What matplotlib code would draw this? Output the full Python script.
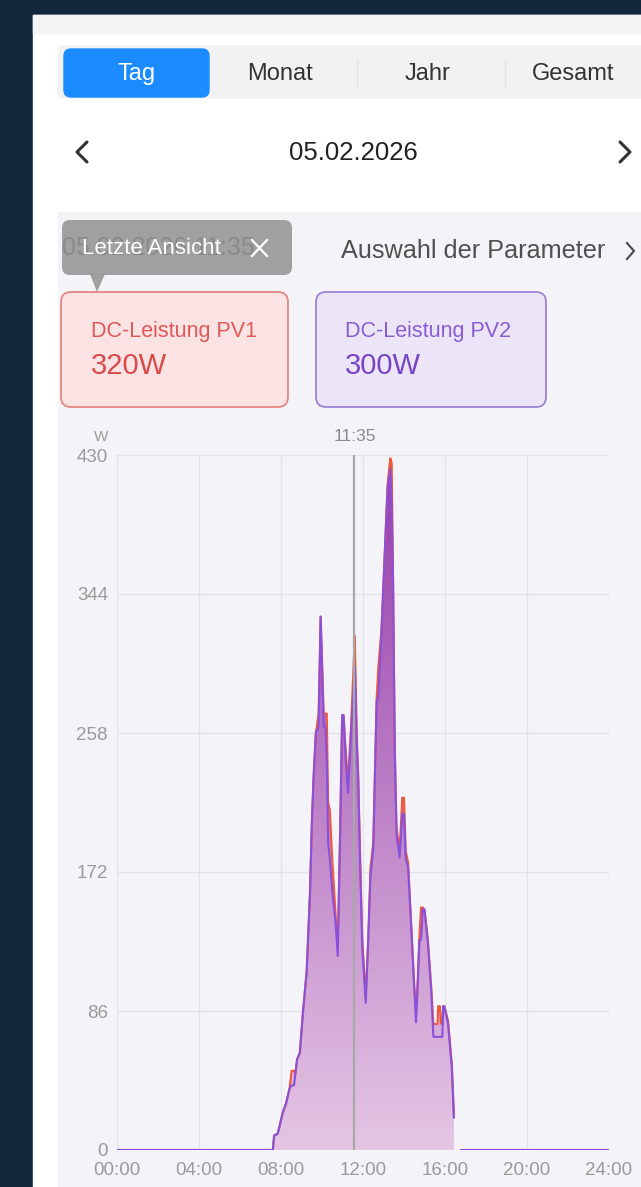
import numpy as np
import matplotlib
matplotlib.use("Agg")
import matplotlib.pyplot as plt
from matplotlib.patches import Rectangle, FancyBboxPatch, Polygon

plt.rcParams['font.family'] = ['Liberation Sans', 'DejaVu Sans']

# Data (time of day, DC power in W)
times = ["00:00", "07:36", "07:40", "07:50", "07:55", "08:05", "08:15", "08:25", "08:31", "08:38",
         "08:42", "08:47", "08:55", "09:05", "09:15", "09:25", "09:30", "09:35", "09:42", "09:50",
         "09:56", "10:00", "10:05", "10:10", "10:14", "10:18", "10:23", "10:30", "10:40", "10:46",
         "10:53", "10:59", "11:03", "11:10", "11:16", "11:25", "11:36", "11:42", "11:46", "11:52",
         "11:58", "12:08", "12:15", "12:22", "12:30", "12:40", "12:45", "12:54", "13:04", "13:12",
         "13:20", "13:24", "13:28", "13:33", "13:38", "13:47", "13:55", "14:00", "14:05", "14:12",
         "14:22", "14:30", "14:35", "14:40", "14:45", "14:50", "14:55", "15:00", "15:10", "15:20",
         "15:26", "15:38", "15:40", "15:45", "15:48", "15:52", "15:55", "15:58", "16:09", "16:20",
         "16:26", "16:27", "16:48", "24:00"]
pv1 = [0, 0, 9, 10, 14, 23, 29, 38, 49, 49,
       47, 56, 60, 87, 110, 160, 200, 229, 258, 270,
       330, 305, 270, 270, 270, 215, 210, 180, 145, 125,
       196, 269, 269, 245, 228, 262, 318, 255, 233, 178,
       130, 95, 130, 175, 190, 280, 299, 322, 371, 412,
       428, 425, 355, 250, 200, 185, 218, 218, 185, 178,
       136, 102, 85, 105, 132, 150, 150, 148, 130, 100,
       78, 78, 89, 89, 78, 80, 89, 89, 80, 53,
       22, None, 0, 0]
pv2 = [0, 0, 9, 10, 14, 23, 29, 38, 40, 40,
       47, 56, 60, 87, 110, 160, 200, 229, 258, 262,
       330, 300, 262, 262, 240, 190, 180, 160, 140, 120,
       196, 269, 269, 240, 221, 258, 299, 250, 229, 173,
       124, 91, 128, 170, 186, 278, 280, 320, 371, 410,
       421, 400, 351, 247, 196, 181, 208, 208, 180, 175,
       134, 100, 79, 100, 130, 130, 149, 149, 128, 97,
       70, 70, 70, 70, 70, 70, 89, 89, 78, 51,
       20, None, 0, 0]
yticks = [0, 86, 172, 258, 344, 430]
xticks = [0, 4, 8, 12, 16, 20, 24]
xlabels = ["00:00", "04:00", "08:00", "12:00", "16:00", "20:00", "24:00"]
cursor_time = "11:35"

hours = np.array([int(t[:2]) + int(t[3:]) / 60 for t in times])
p1 = np.array([np.nan if v is None else v for v in pv1], dtype=float)
p2 = np.array([np.nan if v is None else v for v in pv2], dtype=float)

W, H = 641, 1187
fig = plt.figure(figsize=(W / 100, H / 100), dpi=100)

# background "app" layer in pixel coordinates
bg = fig.add_axes([0, 0, 1, 1])
bg.set_xlim(0, W)
bg.set_ylim(H, 0)
bg.axis('off')
bg.add_patch(Rectangle((0, 0), W, H, color='#13273a'))
bg.add_patch(Rectangle((33, 15), W - 33, H - 15, color='white'))
bg.add_patch(Rectangle((33, 15), W - 33, 18, color='#f4f4f6'))

# tab bar
bg.add_patch(FancyBboxPatch((58, 46), 600, 52, boxstyle="round,pad=0,rounding_size=6",
                            color='#f2f2f5'))
bg.add_patch(FancyBboxPatch((64, 49), 145, 48, boxstyle="round,pad=0,rounding_size=7",
                            color='#1a8cff'))
bg.text(137, 74, "Tag", color='white', fontsize=17, ha='center', va='center')
bg.text(280, 74, "Monat", color='#333333', fontsize=17, ha='center', va='center')
bg.text(428, 74, "Jahr", color='#333333', fontsize=17, ha='center', va='center')
bg.text(573, 74, "Gesamt", color='#333333', fontsize=17, ha='center', va='center')
for sx in [357, 505]:
    bg.plot([sx, sx], [60, 88], color='#e3e3e8', lw=1)

# date row
bg.text(353, 153, "05.02.2026", color='#222222', fontsize=18.5, ha='center', va='center')
bg.plot([87, 77, 87], [142, 152, 162], color='#333333', lw=2.2, solid_capstyle='round')
bg.plot([620, 630, 620], [142, 152, 162], color='#333333', lw=2.2, solid_capstyle='round')

# chart panel
bg.add_patch(Rectangle((58, 212), W - 58, H - 212, color='#f4f4f8'))

# tooltip over the timestamp
bg.text(62, 248, "05.02.2026 11:35", color='#8a8a8a', fontsize=18, ha='left', va='center')
bg.add_patch(FancyBboxPatch((62, 220), 230, 55, boxstyle="round,pad=0,rounding_size=8",
                            color='#979797', alpha=0.9, lw=0))
bg.add_patch(Polygon([[90, 274], [105, 274], [97, 292]], closed=True, color='#979797',
                     alpha=0.9, lw=0))
bg.text(82, 248, "Letzte Ansicht", color='white', fontsize=16, ha='left', va='center')
bg.plot([252, 267], [240, 256], color='white', lw=1.6)
bg.plot([252, 267], [256, 240], color='white', lw=1.6)

bg.text(341, 251, "Auswahl der Parameter", color='#505050', fontsize=18.2, ha='left', va='center')
bg.plot([627, 634, 627], [243, 251, 259], color='#505050', lw=1.6)

# value cards
bg.add_patch(FancyBboxPatch((61, 292), 227, 115, boxstyle="round,pad=0,rounding_size=10",
                            facecolor='#fbe3e4', edgecolor='#e28585', lw=1.3))
bg.text(91, 331, "DC-Leistung PV1", color='#e05858', fontsize=15.5, ha='left', va='center')
bg.text(91, 366, "320W", color='#d94a4a', fontsize=21, ha='left', va='center')
bg.add_patch(FancyBboxPatch((316, 292), 230, 115, boxstyle="round,pad=0,rounding_size=10",
                            facecolor='#ebe5f7', edgecolor='#9d83d6', lw=1.3))
bg.text(345, 331, "DC-Leistung PV2", color='#8a5cd2', fontsize=15.5, ha='left', va='center')
bg.text(345, 366, "300W", color='#7744c6', fontsize=21, ha='left', va='center')

# chart
x0, x1, y0, y1 = 117, 609, 455, 1150
ax = fig.add_axes([x0 / W, 1 - y1 / H, (x1 - x0) / W, (y1 - y0) / H])
ax.set_facecolor('none')
ax.set_xlim(0, 24)
ax.set_ylim(0, 430)
for s in ax.spines.values():
    s.set_visible(False)
ax.set_xticks(xticks)
ax.set_xticklabels(xlabels)
ax.set_yticks(yticks)
ax.tick_params(length=0, colors='#9a9a9a', labelsize=13.5)
ax.tick_params(axis='y', pad=6.5)
ax.tick_params(axis='x', pad=8.5)
ax.grid(True, color='#e2e2ea', lw=1)
ax.set_axisbelow(True)

# gradient fill under the day curve (up to the data gap)
day = (hours > 7) & (hours < 16.45)
hx = hours[day]
top = np.maximum(p1[day], p2[day])
verts = [(hx[0], 0)] + list(zip(hx, top)) + [(hx[-1], 0)]
clip = Polygon(verts, closed=True, transform=ax.transData, facecolor='none', edgecolor='none')
ax.add_patch(clip)
c_top = np.array([150, 60, 170]) / 255
c_bot = np.array([228, 198, 228]) / 255
frac = np.linspace(1, 0, 256)[:, None]
grad = (c_bot + (c_top - c_bot) * frac)[:, None, :]
im = ax.imshow(grad, extent=[0, 24, 0, 430], aspect='auto', origin='upper', zorder=2)
im.set_clip_path(clip)

ax.plot(hours, p1, color='#f0583c', lw=1.5, zorder=3)
ax.plot(hours, p2, color='#8a50dc', lw=1.5, zorder=4)

ch = int(cursor_time[:2]) + int(cursor_time[3:]) / 60
ax.axvline(ch, color='#a8a8a8', lw=1.6, zorder=5)
ax.text(ch, 437, cursor_time, color='#8a8a8a', fontsize=12.5, ha='center', va='bottom')
ax.text(-0.44, 437, "W", color='#9a9a9a', fontsize=11, ha='right', va='bottom')

fig.savefig("out.png", dpi=100)
